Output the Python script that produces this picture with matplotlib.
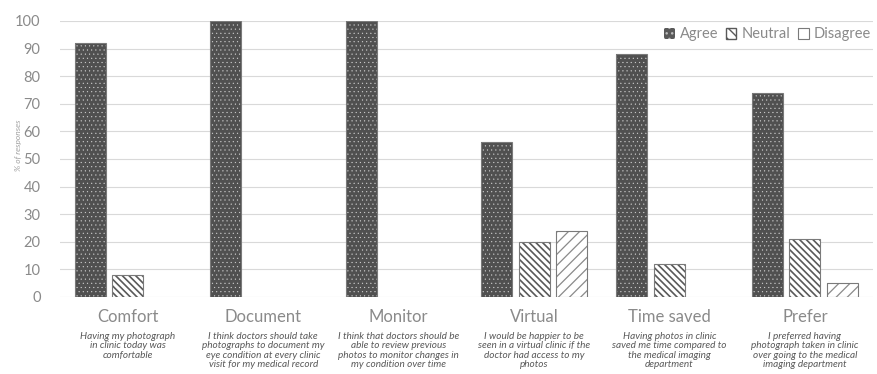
import matplotlib
matplotlib.use("Agg")
import matplotlib.pyplot as plt
import matplotlib.patches as mpatches
import numpy as np

categories = ["Comfort", "Document", "Monitor", "Virtual", "Time saved", "Prefer"]
descriptions = [
    "Having my photograph\nin clinic today was\ncomfortable",
    "I think doctors should take\nphotographs to document my\neye condition at every clinic\nvisit for my medical record",
    "I think that doctors should be\nable to review previous\nphotos to monitor changes in\nmy condition over time",
    "I would be happier to be\nseen in a virtual clinic if the\ndoctor had access to my\nphotos",
    "Having photos in clinic\nsaved me time compared to\nthe medical imaging\ndepartment",
    "I preferred having\nphotograph taken in clinic\nover going to the medical\nimaging department",
]
agree = [92, 100, 100, 56, 88, 74]
neutral = [8, 0, 0, 20, 12, 21]
disagree = [0, 0, 0, 24, 0, 5]

plt.rcParams['font.family'] = ['Lato', 'DejaVu Sans']
plt.rcParams['hatch.linewidth'] = 1.0

grey_txt = "#8a8a8a"
dark = "#595959"


def hatch_lw(bars, lw):
    for b in bars:
        try:
            b.set_hatch_linewidth(lw)
        except AttributeError:
            pass


fig = plt.figure(figsize=(8.77, 3.74), dpi=100)
ax = fig.add_axes([0.0684, 0.206, 0.9266, 0.738])

x = np.arange(len(categories))
w = 0.229
step = 0.277

# agree: dark bars with small white dots
b = ax.bar(x - step, agree, w, facecolor="#505050", edgecolor="#d0d0d0", hatch="....", linewidth=0, zorder=3)
hatch_lw(b, 0.3)
ax.bar(x - step, agree, w, fill=False, edgecolor="#7a7a7a", linewidth=0.8, zorder=4)

# neutral: white with dark diagonal stripes
nx = np.array([xi for xi, v in zip(x, neutral) if v > 0])
nv = [v for v in neutral if v > 0]
b = ax.bar(nx, nv, w, facecolor="white", edgecolor=dark, hatch="\\\\\\\\\\", linewidth=0, zorder=3)
hatch_lw(b, 1.2)
ax.bar(nx, nv, w, fill=False, edgecolor="#7a7a7a", linewidth=0.8, zorder=4)

# disagree: white with light forward slashes
dx = np.array([xi for xi, v in zip(x, disagree) if v > 0])
dv = [v for v in disagree if v > 0]
b = ax.bar(dx + step, dv, w, facecolor="white", edgecolor="#8a8a8a", hatch="///", linewidth=0, zorder=3)
hatch_lw(b, 0.9)
ax.bar(dx + step, dv, w, fill=False, edgecolor="#7a7a7a", linewidth=0.8, zorder=4)

ax.set_xlim(-0.5, len(categories) - 0.5)
ax.set_ylim(0, 100)
ax.set_yticks(range(0, 101, 10))
ax.yaxis.grid(True, color="#d9d9d9", linewidth=0.8, zorder=0)
ax.set_axisbelow(True)
for s in ax.spines.values():
    s.set_visible(False)
ax.tick_params(axis="both", length=0, colors=grey_txt)
ax.tick_params(axis="y", labelsize=10.5, pad=14)
ax.set_xticks(x)
ax.set_xticklabels(categories, fontsize=12, color=grey_txt)
ax.tick_params(axis="x", pad=9)

ax.set_ylabel("% of responses", fontsize=6, style="italic", color="#a0a0a0")
ax.yaxis.set_label_coords(-0.047, 0.55)

for xi, d in zip(x, descriptions):
    ax.annotate(d, xy=(xi, -0.127), xycoords=("data", "axes fraction"),
                ha="center", va="top", fontsize=7.2, style="italic",
                color="#595959", linespacing=1.05)

handles = [
    mpatches.Patch(facecolor=dark, edgecolor="#bbbbbb", hatch="...", linewidth=0),
    mpatches.Patch(facecolor="white", edgecolor=dark, hatch="\\\\\\"),
    mpatches.Patch(facecolor="white", edgecolor="#7a7a7a", linewidth=0.8),
]
leg = fig.legend(handles, ["Agree", "Neutral", "Disagree"], loc="upper right",
                 bbox_to_anchor=(1.008, 0.962), ncol=3, frameon=False,
                 handlelength=0.75, handleheight=0.75, handletextpad=0.35, columnspacing=0.5,
                 prop={"size": 10.5})
for t in leg.get_texts():
    t.set_color(grey_txt)

fig.savefig("out.png", dpi=100)
